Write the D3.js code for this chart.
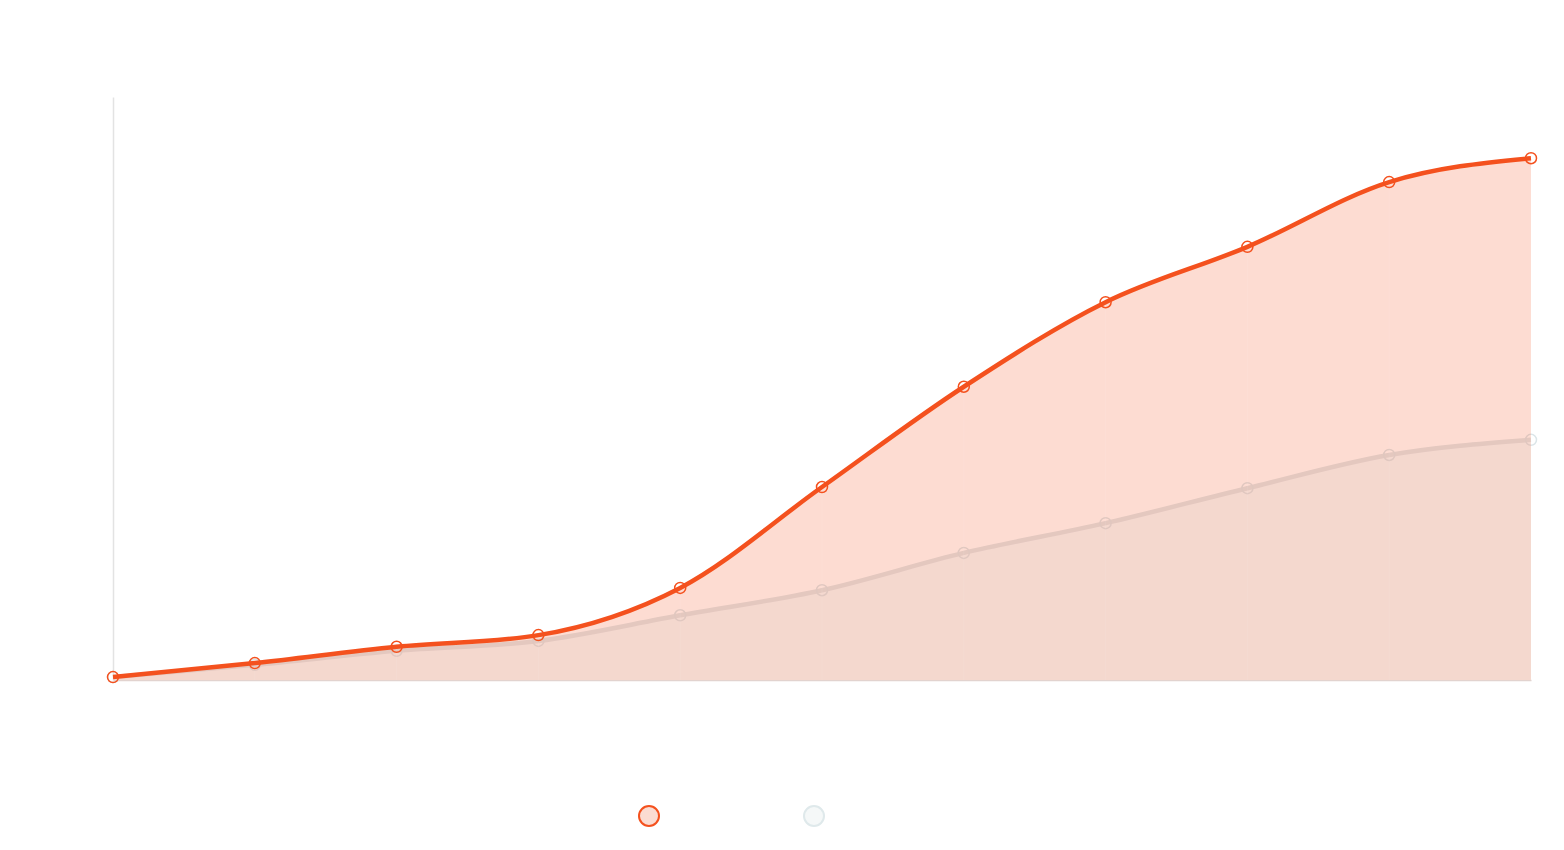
<!DOCTYPE html>
<html><head><meta charset="utf-8">
<script src="https://cdn.jsdelivr.net/npm/d3@7"></script>
<style>html,body{margin:0;padding:0;background:#fff;}svg{display:block;}</style>
</head><body>
<svg id="chart" width="1564" height="850"></svg>
<script>
const categories = [1,2,3,4,5,6,7,8,9,10,11];
const seriesA = [0.5, 2.9, 5.7, 7.7, 15.8, 33.1, 50.3, 64.8, 74.3, 85.4, 89.5];
const seriesB = [0.5, 2.6, 5.0, 6.7, 11.1, 15.4, 21.8, 26.9, 32.9, 38.6, 41.2];
const yDomain = [0, 100];

const svg = d3.select("#chart");
const m = {left:113, right:33, top:97, bottom:170};
const W = 1564, H = 850;
const x = d3.scalePoint().domain(categories).range([m.left, W - m.right]);
const y = d3.scaleLinear().domain(yDomain).range([H - m.bottom, m.top]);

const curve = d3.curveMonotoneX;
const area = d3.area().x((d,i)=>x(categories[i])).y0(y(0)).y1(d=>y(d)).curve(curve);
const line = d3.line().x((d,i)=>x(categories[i])).y(d=>y(d)).curve(curve);

// baseline axis
svg.append("g").attr("transform",`translate(0,${y(0)})`)
  .call(d3.axisBottom(x).tickSize(0).tickFormat(""))
  .call(g=>g.select(".domain").attr("stroke","#e2d3cf").attr("stroke-width",1.5));
// left axis
svg.append("g").attr("transform",`translate(${m.left},0)`)
  .call(d3.axisLeft(y).tickSize(0).tickFormat(""))
  .call(g=>g.select(".domain").attr("stroke","#e3e3e3").attr("stroke-width",1.5));

// grey series
svg.append("path").datum(seriesB).attr("d",area).attr("fill","#f4fafb");
svg.append("path").datum(seriesB).attr("d",line).attr("fill","none")
  .attr("stroke","#e0e6e8").attr("stroke-width",4.5);
svg.append("g").selectAll("circle").data(seriesB).join("circle")
  .attr("cx",(d,i)=>x(categories[i])).attr("cy",d=>y(d)).attr("r",5.5)
  .attr("fill","none").attr("stroke","#dbe5e8").attr("stroke-width",1.5);

// orange series
svg.append("path").datum(seriesA).attr("d",area).attr("fill","#f6511d").attr("fill-opacity",0.2);
// faint seams
svg.append("g").selectAll("line").data(seriesA).join("line")
  .attr("x1",(d,i)=>x(categories[i])).attr("x2",(d,i)=>x(categories[i]))
  .attr("y1",d=>y(d)).attr("y2",y(0))
  .attr("stroke","#ffffff").attr("stroke-opacity",0.08).attr("stroke-width",1);
svg.append("path").datum(seriesA).attr("d",line).attr("fill","none")
  .attr("stroke","#f4511e").attr("stroke-width",4.5);
svg.append("g").selectAll("circle").data(seriesA).join("circle")
  .attr("cx",(d,i)=>x(categories[i])).attr("cy",d=>y(d)).attr("r",5.5)
  .attr("fill","none").attr("stroke","#f4511e").attr("stroke-width",1.5);

// legend
const legend = svg.append("g");
legend.append("circle").attr("cx",649).attr("cy",816).attr("r",10)
  .attr("fill","#fbdcd2").attr("stroke","#f4511e").attr("stroke-width",2);
legend.append("circle").attr("cx",814).attr("cy",816).attr("r",10)
  .attr("fill","#f5f8f8").attr("stroke","#dfe9eb").attr("stroke-width",2);
</script>
</body></html>
